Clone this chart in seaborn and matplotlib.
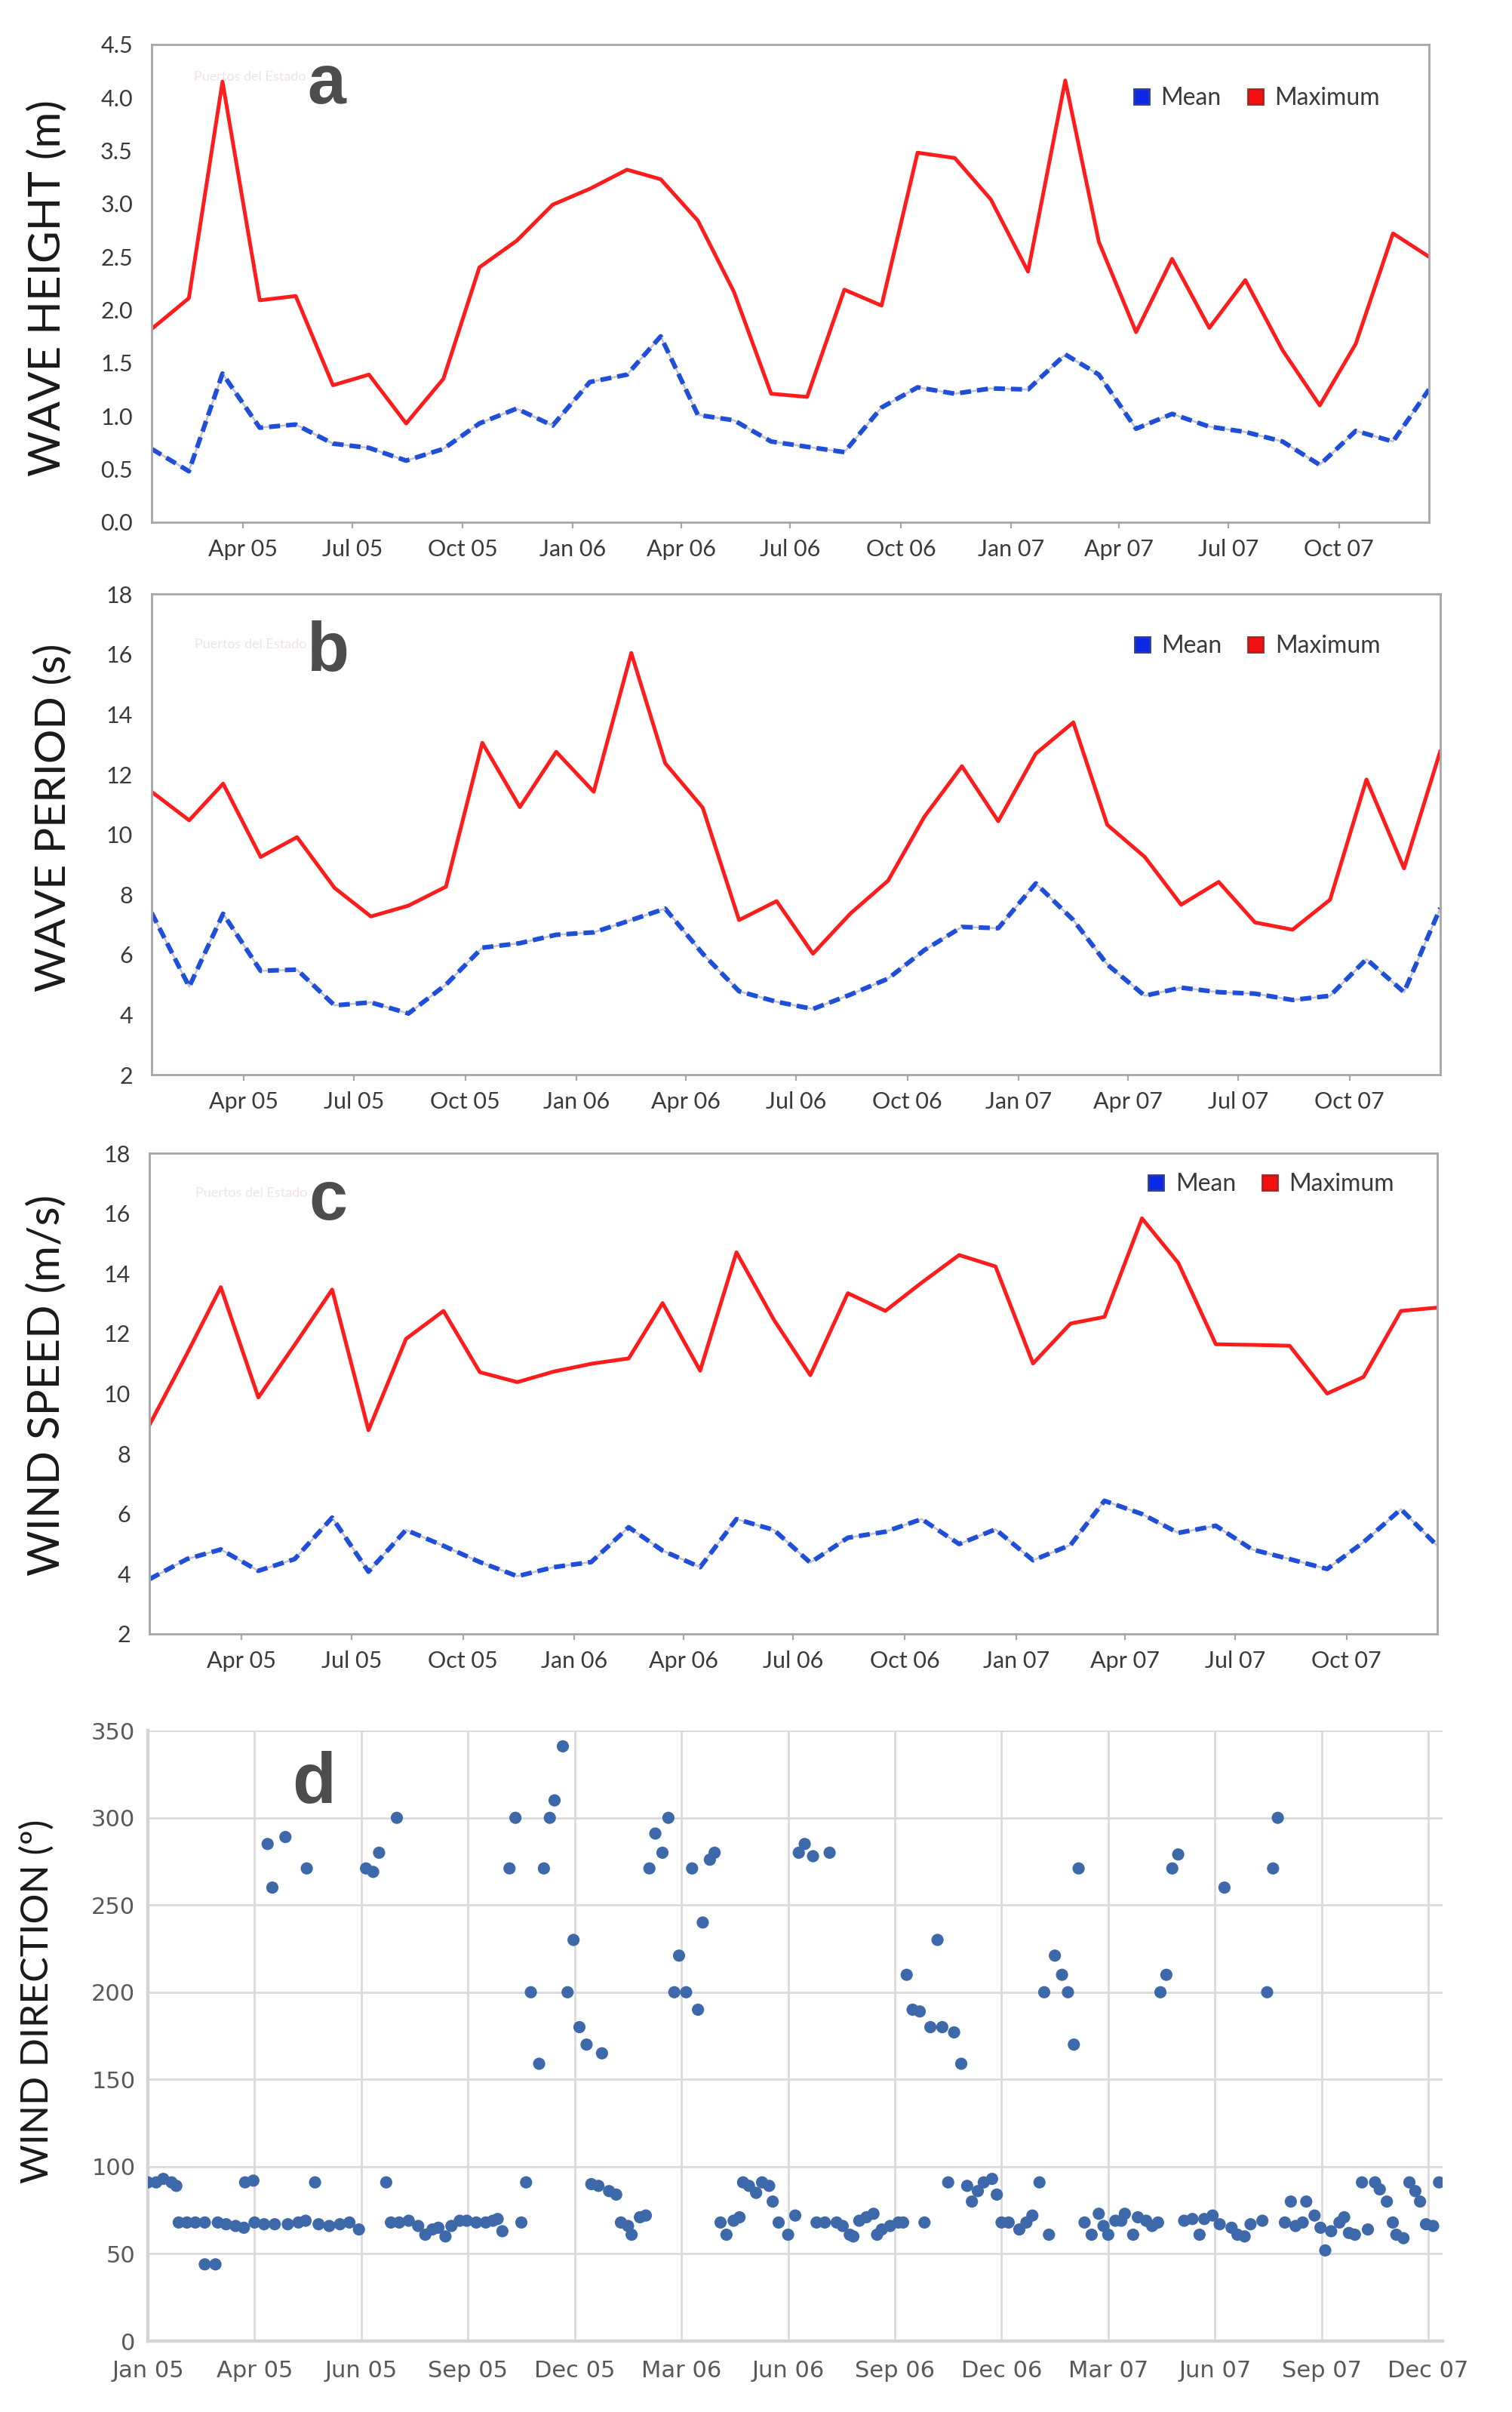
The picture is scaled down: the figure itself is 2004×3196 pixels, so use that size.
import numpy as np
import pandas as pd
import matplotlib
matplotlib.use("Agg")
import matplotlib.pyplot as plt
import matplotlib.dates as mdates
from matplotlib.lines import Line2D
import seaborn as sns

# ---------------- data ----------------
months = pd.period_range("2005-01", "2007-12", freq="M")

hs_mean = [0.69, 0.48, 1.40, 0.89, 0.92, 0.74, 0.70, 0.58, 0.69, 0.93, 1.07, 0.91,
           1.32, 1.39, 1.75, 1.01, 0.96, 0.76, 0.71, 0.66, 1.08, 1.27, 1.21, 1.26,
           1.25, 1.58, 1.39, 0.88, 1.02, 0.90, 0.85, 0.76, 0.54, 0.86, 0.76, 1.25]
hs_max = [1.82, 2.11, 4.15, 2.09, 2.13, 1.29, 1.39, 0.93, 1.35, 2.40, 2.65, 2.99,
          3.14, 3.32, 3.23, 2.84, 2.17, 1.21, 1.18, 2.19, 2.04, 3.48, 3.43, 3.04,
          2.36, 4.16, 2.64, 1.79, 2.48, 1.83, 2.28, 1.62, 1.10, 1.68, 2.72, 2.50]

tp_mean = [7.39, 4.93, 7.36, 5.46, 5.50, 4.31, 4.41, 4.04, 5.00, 6.23, 6.38, 6.66,
           6.74, 7.15, 7.53, 6.03, 4.78, 4.43, 4.19, 4.67, 5.20, 6.15, 6.92, 6.88,
           8.37, 7.15, 5.67, 4.63, 4.90, 4.75, 4.70, 4.49, 4.63, 5.85, 4.75, 7.55]
tp_max = [11.42, 10.47, 11.69, 9.25, 9.91, 8.22, 7.27, 7.63, 8.26, 13.05, 10.91, 12.75,
          11.42, 16.04, 12.37, 10.89, 7.15, 7.78, 6.03, 7.37, 8.46, 10.59, 12.27, 10.44,
          12.69, 13.73, 10.32, 9.25, 7.66, 8.42, 7.07, 6.83, 7.83, 11.83, 8.87, 12.78]

ws_mean = [3.82, 4.49, 4.81, 4.10, 4.49, 5.87, 4.07, 5.46, 4.93, 4.39, 3.92, 4.22,
           4.39, 5.55, 4.77, 4.22, 5.82, 5.46, 4.37, 5.20, 5.40, 5.82, 4.99, 5.48,
           4.45, 4.96, 6.43, 5.99, 5.36, 5.60, 4.81, 4.49, 4.16, 5.05, 6.15, 4.93]
ws_max = [8.95, 11.32, 13.54, 9.87, 11.62, 13.46, 8.78, 11.82, 12.75, 10.71, 10.38, 10.73,
          10.99, 11.17, 13.01, 10.76, 14.70, 12.45, 10.61, 13.34, 12.75, 13.69, 14.61, 14.23,
          11.00, 12.33, 12.55, 15.83, 14.35, 11.64, 11.62, 11.59, 10.00, 10.55, 12.75, 12.86]

# wind direction: day offset from 1 Jan 2005, direction in degrees
wd_day = [0, 7, 13, 20, 24, 26, 33, 40, 48, 48, 57, 59, 66, 74, 81, 82, 89, 90, 98,
          101, 105, 107, 116, 118, 127, 133, 134, 141, 144, 153, 162, 170, 178,
          184, 190, 195, 201, 205, 210, 212, 220, 228, 234, 240, 245, 251, 256, 263,
          269, 277, 285, 291, 295, 299, 305, 310, 315, 319, 323, 330, 334, 339, 343,
          350, 354, 359, 364, 370, 374, 380, 383, 389, 395, 399, 405, 408, 415, 420,
          423, 428, 434, 439, 444, 448, 454, 459, 464, 468, 474, 478, 483, 488, 494,
          499, 502, 507, 513, 518, 524, 527, 532, 540, 546, 549, 554, 561, 564, 571,
          575, 581, 586, 592, 595, 600, 606, 612, 615, 619, 626, 633, 637, 640, 645,
          651, 655, 660, 666, 670, 675, 680, 686, 691, 695, 700, 705, 712, 716, 720,
          726, 735, 741, 746, 752, 756, 760, 765, 771, 776, 781, 785, 790, 796, 802,
          806, 810, 816, 821, 824, 831, 835, 842, 847, 852, 854, 859, 864, 869, 874,
          881, 887, 891, 898, 904, 908, 914, 919, 925, 930, 940, 944, 949, 953, 959,
          964, 968, 974, 977, 984, 989, 993, 998, 1005, 1009, 1013, 1018, 1024, 1029,
          1035, 1039, 1045, 1050, 1053, 1059, 1064, 1069, 1073, 1078, 1084, 1089]
wd_deg = [91, 91, 93, 91, 89, 68, 68, 68, 68, 44, 44, 68, 67, 66, 65, 91, 92, 68, 67,
          285, 260, 67, 289, 67, 68, 69, 271, 91, 67, 66, 67, 68, 64,
          271, 269, 280, 91, 68, 300, 68, 69, 66, 61, 64, 65, 60, 66, 69,
          69, 68, 68, 69, 70, 63, 271, 300, 68, 91, 200, 159, 271, 300, 310,
          341, 200, 230, 180, 170, 90, 89, 165, 86, 84, 68, 66, 61, 71, 72,
          271, 291, 280, 300, 200, 221, 200, 271, 190, 240, 276, 280, 68, 61, 69,
          71, 91, 89, 85, 91, 89, 80, 68, 61, 72, 280, 285, 278, 68, 68,
          280, 68, 66, 61, 60, 69, 71, 73, 61, 64, 66, 68, 68, 210, 190,
          189, 68, 180, 230, 180, 91, 177, 159, 89, 80, 86, 91, 93, 84, 68,
          68, 64, 68, 72, 91, 200, 61, 221, 210, 200, 170, 271, 68, 61, 73,
          66, 61, 69, 69, 73, 61, 71, 69, 66, 68, 200, 210, 271, 279, 69,
          70, 61, 70, 72, 67, 260, 65, 61, 60, 67, 69, 200, 271, 300, 68,
          80, 66, 68, 80, 72, 65, 52, 63, 68, 71, 62, 61, 91, 64,
          91, 87, 80, 68, 61, 59, 91, 86, 80, 67, 66, 91]

ytick_a = [0.0, 0.5, 1.0, 1.5, 2.0, 2.5, 3.0, 3.5, 4.0, 4.5]
ytick_bc = [2, 4, 6, 8, 10, 12, 14, 16, 18]
ytick_d = [0, 50, 100, 150, 200, 250, 300, 350]
legend_labels = ["Mean", "Maximum"]

# ---------------- style ----------------
sns.set_theme(style="white")
plt.rcParams["font.family"] = ["Lato", "DejaVu Sans"]

RED = "#ff1c1c"
BLUE = "#1f4fd8"
UNDER = "#c4c4c4"
SPINE = "#a6a6a6"
TXT = "#3a3a3a"

fig = plt.figure(figsize=(10.02, 15.98), dpi=200)

month_dates = months.to_timestamp() + pd.Timedelta(days=14)


def line_panel(rect, mean, mx, ylim, yticks, yfmt, ylabel, ylab_size, ylab_xy,
               letter, letter_xy, leg_xy):
    ax = fig.add_axes(rect)
    df = pd.DataFrame({"date": month_dates, "Mean": mean, "Maximum": mx})
    sns.lineplot(data=df, x="date", y="Maximum", ax=ax, color=RED, linewidth=1.8)
    sns.lineplot(data=df, x="date", y="Mean", ax=ax, color=UNDER, linewidth=0.9)
    sns.lineplot(data=df, x="date", y="Mean", ax=ax, color=BLUE, linewidth=2.2,
                 linestyle=(0, (2.4, 1.3)))
    ax.set_xlim(month_dates[0], month_dates[-1])
    ax.set_ylim(*ylim)
    ax.set_yticks(yticks)
    ax.set_yticklabels([yfmt.format(v) for v in yticks])
    ax.xaxis.set_major_locator(mdates.MonthLocator(bymonth=[1, 4, 7, 10]))
    ax.xaxis.set_major_formatter(mdates.DateFormatter("%b %y"))
    ax.tick_params(axis="x", bottom=True, length=3, width=0.8, color=SPINE,
                   direction="out", pad=5, labelsize=11, labelcolor=TXT)
    ax.tick_params(axis="y", left=False, length=0, pad=9, labelsize=11,
                   labelcolor=TXT)
    for s in ax.spines.values():
        s.set_visible(True)
        s.set_color(SPINE)
        s.set_linewidth(1.0)
    ax.set_xlabel("")
    ax.set_ylabel(ylabel, fontsize=ylab_size, color="#1a1a1a")
    ax.yaxis.set_label_coords(*ylab_xy)
    ax.text(letter_xy[0], letter_xy[1], letter, transform=ax.transAxes,
            fontsize=33, fontweight="bold", color="#4d4d4d", ha="center",
            va="baseline", family=["Liberation Sans", "DejaVu Sans"])
    ax.text(letter_xy[0] - 0.06, letter_xy[1] + 0.055, "Puertos del Estado",
            transform=ax.transAxes, fontsize=6.5, color="#f0e4e4",
            ha="center", va="center")
    handles = [
        Line2D([], [], marker="s", linestyle="", markersize=7,
               markerfacecolor="#0a28e6", markeredgecolor="#2a3aa0"),
        Line2D([], [], marker="s", linestyle="", markersize=7,
               markerfacecolor="#f21010", markeredgecolor="#b02020"),
    ]
    leg = ax.legend(handles, legend_labels, loc="center right",
                    bbox_to_anchor=leg_xy, ncol=2, frameon=False, fontsize=11.5,
                    handlelength=0.8, handletextpad=0.4, columnspacing=1.0,
                    borderaxespad=0)
    for t in leg.get_texts():
        t.set_color(TXT)
    return ax


line_panel([0.1003, 0.7835, 0.8448, 0.1981], hs_mean, hs_max, (0, 4.5), ytick_a,
           "{:.1f}", "WAVE HEIGHT (m)", 21, (-0.066, 0.49), "a", (0.137, 0.877),
           (0.969, 0.888))
line_panel([0.1003, 0.5544, 0.8523, 0.1993], tp_mean, tp_max, (2, 18), ytick_bc,
           "{:d}", "WAVE PERIOD (s)", 20.5, (-0.061, 0.535), "b", (0.137, 0.840),
           (0.961, 0.892))
line_panel([0.0988, 0.3226, 0.8518, 0.1993], ws_mean, ws_max, (2, 18), ytick_bc,
           "{:d}", "WIND SPEED (m/s)", 21, (-0.064, 0.517), "c", (0.139, 0.862),
           (0.974, 0.936))

# ---------------- panel d ----------------
start = pd.Timestamp("2005-01-01")
wd = pd.DataFrame({"date": start + pd.to_timedelta(wd_day, unit="D"),
                   "deg": wd_deg})
axd = fig.add_axes([0.0978, 0.0294, 0.8563, 0.2531])
sns.scatterplot(data=wd, x="date", y="deg", ax=axd, color="#3d69aa", s=34,
                edgecolor="none", zorder=3)
axd.set_xlim(start, start + pd.Timedelta(days=1092))
axd.set_ylim(0, 350)
axd.set_yticks(ytick_d)
d_ticks = [start + pd.Timedelta(days=90 * k) for k in range(13)]
axd.set_xticks(d_ticks)
axd.xaxis.set_major_formatter(mdates.DateFormatter("%b %y"))
axd.grid(True, color="#dadada", linewidth=1.0)
axd.set_axisbelow(True)
for side in ["top", "right"]:
    axd.spines[side].set_visible(False)
for side in ["left", "bottom"]:
    axd.spines[side].set_visible(True)
    axd.spines[side].set_color("#d4d4d4")
    axd.spines[side].set_linewidth(1.6)
axd.tick_params(axis="both", length=0, labelsize=11, labelcolor="#595959")
axd.tick_params(axis="y", pad=6)
axd.tick_params(axis="x", pad=9)
for lab in axd.get_xticklabels() + axd.get_yticklabels():
    lab.set_family(["DejaVu Sans"])
axd.set_xlabel("")
axd.set_ylabel("WIND DIRECTION (º)", fontsize=18, color="#1a1a1a")
axd.yaxis.set_label_coords(-0.072, 0.556)
axd.text(0.128, 0.883, "d", transform=axd.transAxes, fontsize=34,
         fontweight="bold", color="#4d4d4d", ha="center", va="baseline",
         family=["Liberation Sans", "DejaVu Sans"])

fig.savefig("out.png", dpi=200, facecolor="white")
